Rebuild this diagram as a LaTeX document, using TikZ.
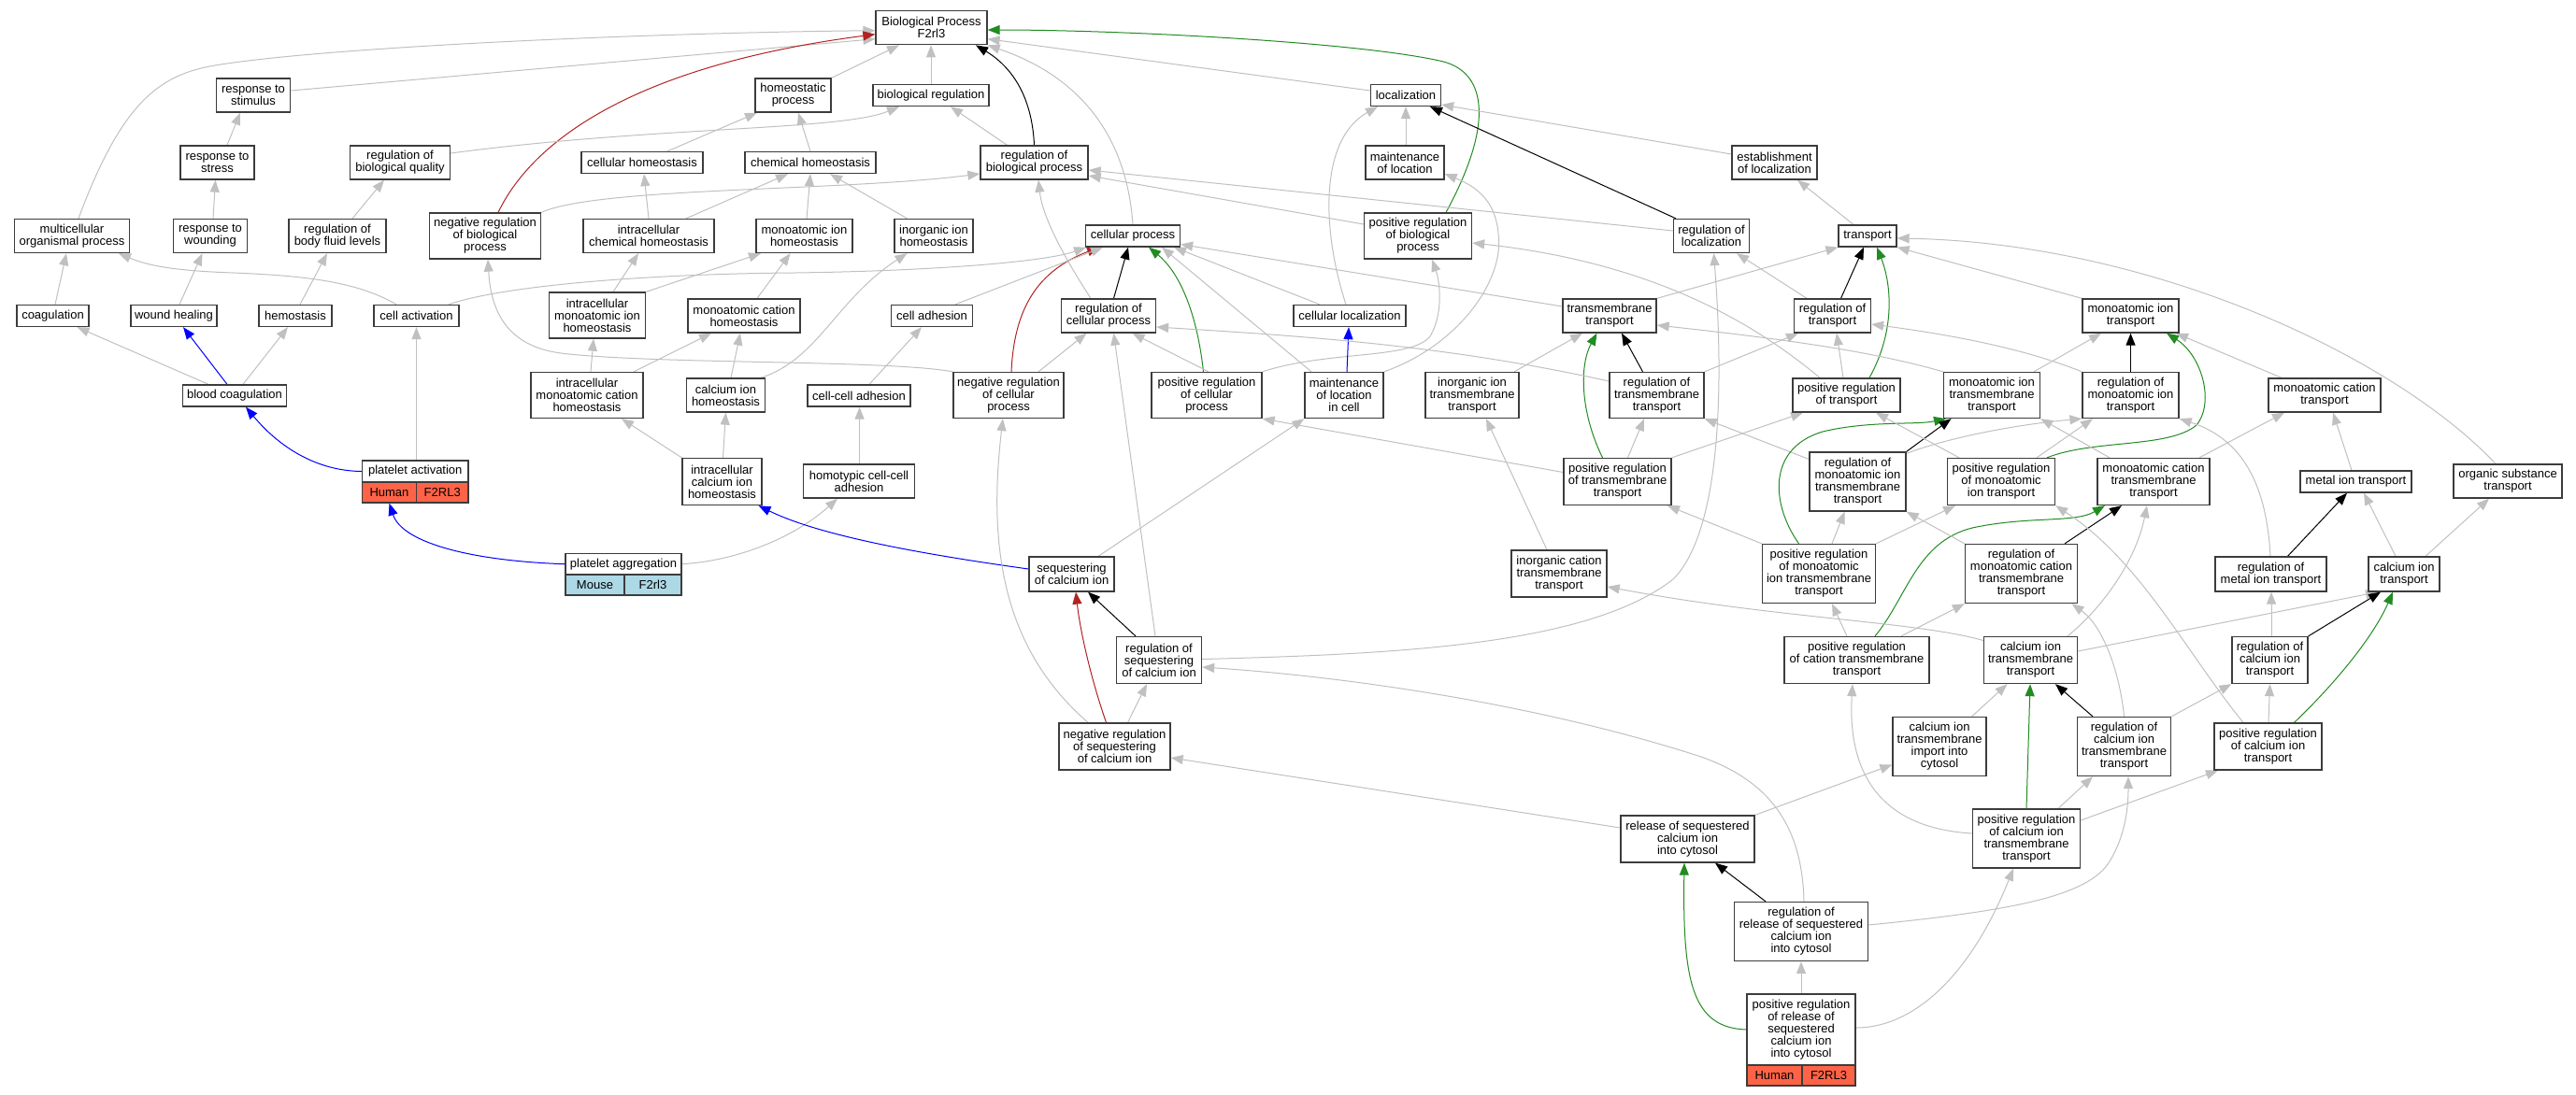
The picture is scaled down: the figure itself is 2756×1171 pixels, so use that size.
\documentclass[tikz,border=0pt]{standalone}
\usepackage{fontspec}
\setmainfont{Liberation Sans}
\usetikzlibrary{arrows.meta,backgrounds}
\definecolor{egray}{RGB}{192,192,192}
\definecolor{ered}{RGB}{178,34,34}
\definecolor{egreen}{RGB}{34,139,34}
\definecolor{eblue}{RGB}{0,0,255}
\definecolor{human}{RGB}{255,99,71}
\definecolor{mouse}{RGB}{173,216,230}
\definecolor{boxline}{RGB}{60,60,60}
\newcommand\nodefont{\fontsize{13}{13}\selectfont}
\newcommand\bx[6]{\node[box, minimum width=#4pt, minimum height=#5pt] (#1) at (#2,#3) {#6};}
\tikzset{
  box/.style={draw=boxline, line width=1.3pt, fill=white, inner sep=0pt, align=center, font=\nodefont},
  arr/.style={line width=1pt, -{Triangle[length=13pt,width=10pt]}},
  gE/.style={arr, draw=egray},
  kE/.style={arr, draw=black},
  rE/.style={arr, draw=ered},
  gnE/.style={arr, draw=egreen},
  bE/.style={arr, draw=eblue}
}
\begin{document}
\begin{tikzpicture}[x=1pt,y=-1pt]
\useasboundingbox (0,0) rectangle (2756,1171);
% ---------- nodes ----------
\bx{BP}{996.5}{29.7}{119}{36}{Biological Process\\F2rl3}
\bx{rstim}{271}{102}{79}{36}{response to\\stimulus}
\bx{homeo}{848.5}{102}{81}{36}{homeostatic\\process}
\bx{bioreg}{996}{102}{124}{23}{biological regulation}
\bx{loc}{1504}{102}{75}{23}{localization}
\bx{rstress}{232.5}{174}{79}{36}{response to\\stress}
\bx{rbq}{428}{174}{107}{36}{regulation of\\biological quality}
\bx{cellhom}{687}{174}{130}{23}{cellular homeostasis}
\bx{chemhom}{867}{174}{140}{23}{chemical homeostasis}
\bx{rbp}{1106.5}{174}{115}{36}{regulation of\\biological process}
\bx{mloc}{1503}{174}{84}{36}{maintenance\\of location}
\bx{estloc}{1898.5}{174}{91}{36}{establishment\\of localization}
\bx{mop}{77}{252.5}{123}{36}{multicellular\\organismal process}
\bx{rwound}{225}{252.5}{79}{36}{response to\\wounding}
\bx{rbfl}{361}{252.5}{104}{36}{regulation of\\body fluid levels}
\bx{nrbp}{519}{252.5}{119}{49}{negative regulation\\of biological\\process}
\bx{icheh}{694}{252.5}{140}{36}{intracellular\\chemical homeostasis}
\bx{mihom}{860.5}{252.5}{103}{36}{monoatomic ion\\homeostasis}
\bx{iihom}{999}{252.5}{84}{36}{inorganic ion\\homeostasis}
\bx{cproc}{1212}{252.5}{101}{23}{cellular process}
\bx{prbp}{1517}{252.5}{115}{49}{positive regulation\\of biological\\process}
\bx{rloc}{1831}{252.5}{81}{36}{regulation of\\localization}
\bx{transport}{1998}{252.5}{62}{23}{transport}
\bx{coag}{56.5}{338}{77}{23}{coagulation}
\bx{wheal}{186}{338}{92}{23}{wound healing}
\bx{hemo}{316}{338}{78}{23}{hemostasis}
\bx{cact}{445.5}{338}{91}{23}{cell activation}
\bx{imih}{639}{337.5}{103}{49}{intracellular\\monoatomic ion\\homeostasis}
\bx{mchom}{796}{338}{120}{36}{monoatomic cation\\homeostasis}
\bx{cadh}{997}{338}{87}{23}{cell adhesion}
\bx{rcp}{1186}{338}{101}{36}{regulation of\\cellular process}
\bx{cloc}{1444}{338}{120}{23}{cellular localization}
\bx{tmt}{1722}{338}{100}{36}{transmembrane\\transport}
\bx{rtr}{1960.5}{338}{82}{36}{regulation of\\transport}
\bx{mit}{2279.5}{338}{103}{36}{monoatomic ion\\transport}
\bx{bcoag}{251}{423.5}{111}{23}{blood coagulation}
\bx{imch}{628}{423}{120}{49}{intracellular\\monoatomic cation\\homeostasis}
\bx{cahom}{776.5}{423}{84}{36}{calcium ion\\homeostasis}
\bx{ccadh}{919}{423.5}{110}{23}{cell-cell adhesion}
\bx{nrcp}{1079}{423}{118}{49}{negative regulation\\of cellular\\process}
\bx{prcp}{1291}{423}{118}{49}{positive regulation\\of cellular\\process}
\bx{mlic}{1438}{423}{84}{49}{maintenance\\of location\\in cell}
\bx{iitt}{1575}{423}{100}{49}{inorganic ion\\transmembrane\\transport}
\bx{rtmt}{1772.5}{423}{101}{49}{regulation of\\transmembrane\\transport}
\bx{prtr}{1975.5}{423}{115}{36}{positive regulation\\of transport}
\bx{mitt}{2131}{423}{103}{49}{monoatomic ion\\transmembrane\\transport}
\bx{rmit}{2279.5}{423}{103}{49}{regulation of\\monoatomic ion\\transport}
\bx{mct}{2487}{423}{120}{36}{monoatomic cation\\transport}
\bx{pactT}{444.25}{504.5}{113.5}{23}{platelet activation}
\node[box, fill=human, minimum width=58pt, minimum height=22pt] (pactH) at (416.5,527) {Human};
\node[box, fill=human, minimum width=55.5pt, minimum height=22pt] (pactF) at (473.25,527) {F2RL3};
\bx{icahom}{772.5}{515.5}{85}{50}{intracellular\\calcium ion\\homeostasis}
\bx{hcca}{919}{515}{119}{36}{homotypic cell-cell\\adhesion}
\bx{prtmt}{1730.5}{515.5}{115}{50}{positive regulation\\of transmembrane\\transport}
\bx{rmitt}{1987.5}{515.5}{103}{63}{regulation of\\monoatomic ion\\transmembrane\\transport}
\bx{prmit}{2141}{515.5}{115}{50}{positive regulation\\of monoatomic\\ion transport}
\bx{mctt}{2304}{515.5}{120}{50}{monoatomic cation\\transmembrane\\transport}
\bx{metal}{2520.5}{515.5}{119}{23}{metal ion transport}
\bx{ost}{2683}{515}{116}{36}{organic substance\\transport}
\bx{paggT}{667}{603.75}{124}{22.5}{platelet aggregation}
\node[box, fill=mouse, minimum width=63pt, minimum height=22pt] (paggM) at (636.5,626) {Mouse};
\node[box, fill=mouse, minimum width=61pt, minimum height=22pt] (paggF) at (698.5,626) {F2rl3};
\bx{seq}{1146.5}{614.5}{91}{37}{sequestering\\of calcium ion}
\bx{ictt}{1668}{614}{102}{50}{inorganic cation\\transmembrane\\transport}
\bx{prmitt}{1946}{614}{121}{63}{positive regulation\\of monoatomic\\ion transmembrane\\transport}
\bx{rmctt}{2162.5}{614}{120}{63}{regulation of\\monoatomic cation\\transmembrane\\transport}
\bx{rmetal}{2429.5}{614.5}{119}{37}{regulation of\\metal ion transport}
\bx{cait}{2572}{614.5}{76}{37}{calcium ion\\transport}
\bx{rseq}{1240}{706.5}{91}{50}{regulation of\\sequestering\\of calcium ion}
\bx{prctt}{1986.5}{706.5}{155}{50}{positive regulation\\of cation transmembrane\\transport}
\bx{catt}{2172.5}{706.5}{100}{50}{calcium ion\\transmembrane\\transport}
\bx{rcait}{2428.5}{706.5}{81}{50}{regulation of\\calcium ion\\transport}
\bx{nrseq}{1192.5}{799}{119}{50}{negative regulation\\of sequestering\\of calcium ion}
\bx{catic}{2075}{799}{100}{63}{calcium ion\\transmembrane\\import into\\cytosol}
\bx{rcatt}{2272.5}{799}{100}{63}{regulation of\\calcium ion\\transmembrane\\transport}
\bx{prcait}{2426.5}{799}{115}{50}{positive regulation\\of calcium ion\\transport}
\bx{rsci}{1805.5}{898}{143}{50}{release of sequestered\\calcium ion\\into cytosol}
\bx{prcatt}{2168}{897.5}{115}{63}{positive regulation\\of calcium ion\\transmembrane\\transport}
\bx{rrsci}{1927}{997}{143}{63}{regulation of\\release of sequestered\\calcium ion\\into cytosol}
\bx{prrsciT}{1927}{1102}{116}{76}{positive regulation\\of release of\\sequestered\\calcium ion\\into cytosol}
\node[box, fill=human, minimum width=59pt, minimum height=22pt] (prrsciH) at (1898.5,1151) {Human};
\node[box, fill=human, minimum width=57pt, minimum height=22pt] (prrsciF) at (1956.5,1151) {F2RL3};
% ---------- edges ----------
\begin{scope}[on background layer]
\draw[gE] ([xshift=7]mop.north) .. controls (130,110) and (170,80) .. (230,70) .. controls (350,50) and (700,35) .. ([yshift=-3]BP.west);
\draw[gE] ([yshift=5]rstim.east) -- ([yshift=-12]BP.west);
\draw[rE] ([xshift=14]nrbp.north) .. controls (570,150) and (680,70) .. ([yshift=-7]BP.west);
\draw[gE] (homeo.north east) -- ([xshift=-34.5]BP.south);
\draw[gE] (bioreg.north) -- ([xshift=-0.5]BP.south);
\draw[kE] (rbp.north) .. controls (1104,100) and (1080,70) .. ([xshift=47.5]BP.south);
\draw[gE] (cproc.north) .. controls (1205,140) and (1150,80) .. (BP.south east);
\draw[gE] ([yshift=5]loc.west) -- ([yshift=-12]BP.east);
\draw[gnE] ([xshift=30]prbp.north) .. controls (1600,130) and (1590,75) .. (1540,65) .. controls (1450,45) and (1200,32) .. ([yshift=-2.3]BP.east);
\draw[gE] ([xshift=10.5]rstress.north) -- ([xshift=-14]rstim.south);
\draw[gE] ([xshift=3]rwound.north) -- ([xshift=-2]rstress.south);
\draw[gE] ([xshift=16]rbfl.north) -- ([xshift=-17]rbq.south);
\draw[gE] ([yshift=10]rbq.east) .. controls (700,135) and (900,140) .. ([xshift=-34]bioreg.south);
\draw[gE] ([xshift=27]cellhom.north) -- ([xshift=-38.5]homeo.south);
\draw[gE] (chemhom.north) -- ([xshift=5.5]homeo.south);
\draw[gE] ([xshift=-29]rbp.north) -- ([xshift=21]bioreg.south);
\draw[gE] (nrbp.north east) .. controls (640,200) and (900,205) .. ([yshift=-12]rbp.west);
\draw[gE] (icheh.north) -- ([xshift=2]cellhom.south);
\draw[gE] ([xshift=40]icheh.north) -- ([xshift=-24]chemhom.south);
\draw[gE] ([xshift=2.5]mihom.north) -- (chemhom.south);
\draw[gE] ([xshift=-28.5]iihom.north) -- ([xshift=21]chemhom.south);
\draw[gE] ([xshift=-19]rcp.north) .. controls (1135,270) and (1115,230) .. ([xshift=4.5]rbp.south);
\draw[gE] ([yshift=5.5]rloc.west) -- ([yshift=-8]rbp.east);
\draw[gE] ([yshift=12.5]prbp.west) -- ([yshift=-14]rbp.east);
\draw[rE] ([xshift=3]nrcp.north) .. controls (1085,330) and (1110,290) .. ([xshift=-36]cproc.south);
\draw[kE] ([xshift=5.5]rcp.north) -- ([xshift=-5]cproc.south);
\draw[gnE] ([xshift=-3.5]prcp.north) .. controls (1280,330) and (1260,290) .. ([xshift=17]cproc.south);
\draw[gE] ([xshift=25]cadh.north) -- ([xshift=-32]cproc.south);
\draw[gE] ([xshift=34.5]cact.north) .. controls (540,305) and (700,293) .. (850,292) .. controls (1000,290) and (1120,280) .. ([xshift=-50]cproc.south);
\draw[gE] ([yshift=10]tmt.west) -- ([yshift=-9]cproc.east);
\draw[gE] ([xshift=-32]cloc.north) -- ([xshift=44]cproc.south);
\draw[gE] ([xshift=-35]mlic.north) -- ([xshift=31]cproc.south);
\draw[gE] ([xshift=1]mloc.north) -- (loc.south);
\draw[gE] ([xshift=-4]cloc.north) .. controls (1415,250) and (1410,150) .. ([xshift=-30]loc.south);
\draw[kE] ([xshift=-38]rloc.north) -- ([xshift=26]loc.south);
\draw[gE] ([yshift=9]estloc.west) -- ([yshift=-10]loc.east);
\draw[gE] ([xshift=-15]transport.north) -- ([xshift=24.5]estloc.south);
\draw[gE] (mlic.north east) .. controls (1560,370) and (1610,300) .. (1603,250) .. controls (1600,215) and (1580,200) .. ([yshift=-12]mloc.east);
\draw[gE] (prcp.north east) .. controls (1420,375) and (1510,385) .. (1530,360) .. controls (1545,335) and (1540,300) .. ([xshift=15]prbp.south);
\draw[gE] ([xshift=-28.5]prtr.north) .. controls (1870,340) and (1760,280) .. ([yshift=-7.5]prbp.east);
\draw[bE] ([xshift=3]mlic.north) -- ([xshift=-1]cloc.south);
\draw[gE] (tmt.north east) -- (transport.south west);
\draw[kE] ([xshift=9]rtr.north) -- ([xshift=-4]transport.south);
\draw[gnE] ([xshift=24.5]prtr.north) .. controls (2030,350) and (2022,300) .. ([xshift=10]transport.south);
\draw[gE] ([xshift=-27.5]rtr.north) -- ([xshift=27]rloc.south);
\draw[gE] ([yshift=1]rseq.east) .. controls (1500,700) and (1700,690) .. (1790,620) .. controls (1840,570) and (1845,420) .. ([xshift=2.5]rloc.south);
\draw[gE] ([xshift=3]rrsci.north) .. controls (1928,880) and (1890,835) .. (1820,810) .. controls (1650,755) and (1450,725) .. ([yshift=-7.5]rseq.east);
\draw[gE] ([yshift=12]rsci.west) -- ([yshift=-12]nrseq.east);
\draw[kE] ([xshift=-15]rtmt.north) -- ([xshift=13]tmt.south);
\draw[gnE] ([xshift=-16]prtmt.north) .. controls (1690,440) and (1690,390) .. ([xshift=-13.5]tmt.south);
\draw[gE] ([xshift=45]iitt.north) -- ([xshift=-29]tmt.south);
\draw[gE] (rtmt.north east) -- ([xshift=-36.5]rtr.south);
\draw[gE] ([xshift=-3.5]prtr.north) -- ([xshift=4.5]rtr.south);
\draw[gE] (mitt.north west) .. controls (2000,375) and (1900,362) .. ([yshift=-10]tmt.east);
\draw[gE] (rmit.north west) .. controls (2170,375) and (2100,360) .. ([yshift=-9]rtr.east);
\draw[gE] (mit.north west) -- (transport.south east);
\draw[gE] ([xshift=-13]ost.north) .. controls (2560,380) and (2300,260) .. ([yshift=-2.5]transport.east);
\draw[gE] ([xshift=45]mitt.north) -- ([xshift=-31.5]mit.south);
\draw[kE] (rmit.north) -- (mit.south);
\draw[gnE] ([xshift=49]prmit.north) .. controls (2240,470) and (2320,480) .. (2350,455) .. controls (2370,430) and (2355,380) .. ([xshift=38.5]mit.south);
\draw[gE] ([xshift=-46]mct.north) -- ([xshift=48.5]mit.south);
\draw[gE] ([xshift=2.5]coag.north) -- ([xshift=-6]mop.south);
\draw[gE] ([xshift=6]wheal.north) -- ([xshift=-8.5]rwound.south);
\draw[gE] ([xshift=5]hemo.north) -- ([xshift=-11]rbfl.south);
\draw[gE] ([xshift=-21.5]cact.north) .. controls (380,300) and (320,295) .. (250,292) .. controls (190,290) and (160,285) .. ([xshift=50]mop.south);
\draw[gE] ([xshift=-28]bcoag.north) -- ([xshift=26]coag.south);
\draw[bE] ([xshift=-8]bcoag.north) -- ([xshift=10]wheal.south);
\draw[gE] ([xshift=9]bcoag.north) -- ([xshift=-8]hemo.south);
\draw[gE] ([xshift=1.25]pactT.north) -- (cact.south);
\draw[bE] (pactT.west) .. controls (340,504) and (300,480) .. ([xshift=12]bcoag.south);
\draw[bE] (paggT.west) .. controls (500,600) and (430,580) .. (pactH.south);
\draw[gE] (paggT.east) .. controls (790,600) and (850,575) .. ([xshift=-23]hcca.south);
\draw[bE] ([yshift=5.5]seq.west) .. controls (1000,595) and (880,575) .. ([xshift=39]icahom.south);
\draw[gE] ([xshift=28.5]seq.north) -- (mlic.south west);
\draw[gE] ([xshift=1]icahom.north) -- (cahom.south);
\draw[gE] (icahom.north west) -- ([xshift=37]imch.south);
\draw[gE] ([xshift=0.6]hcca.north) -- ([xshift=0.6]ccadh.south);
\draw[gE] ([xshift=11]ccadh.north) -- ([xshift=-11]cadh.south);
\draw[gE] ([xshift=5.5]cahom.north) -- ([xshift=-4]mchom.south);
\draw[gE] ([xshift=50]imch.north) -- ([xshift=-35]mchom.south);
\draw[gE] ([xshift=4]imch.north) -- ([xshift=-4]imih.south);
\draw[gE] ([xshift=37.5]cahom.north) .. controls (875,385) and (895,320) .. ([xshift=-28.5]iihom.south);
\draw[gE] ([xshift=14]mchom.north) -- ([xshift=-15]mihom.south);
\draw[gE] (imih.north east) -- ([xshift=-46.5]mihom.south);
\draw[gE] ([xshift=17]imih.north) -- ([xshift=-11]icheh.south);
\draw[gE] (nrcp.north west) .. controls (950,385) and (700,390) .. (600,378) .. controls (540,370) and (525,330) .. ([xshift=3]nrbp.south);
\draw[gE] ([xshift=32]nrcp.north) -- ([xshift=-23.5]rcp.south);
\draw[gE] ([xshift=2]prcp.north) -- ([xshift=25.5]rcp.south);
\draw[gE] ([xshift=-4]rseq.north) -- ([xshift=5.5]rcp.south);
\draw[gE] ([xshift=-28.5]nrseq.north) .. controls (1080,700) and (1055,600) .. ([xshift=-6]nrcp.south);
\draw[rE] ([xshift=-9]nrseq.north) .. controls (1165,720) and (1155,670) .. ([xshift=4.5]seq.south);
\draw[kE] ([xshift=-25]rseq.north) -- ([xshift=17.5]seq.south);
\draw[gE] ([xshift=14]nrseq.north) -- ([xshift=-13]rseq.south);
\draw[gE] ([yshift=10]prtmt.west) -- (prcp.south east);
\draw[gE] ([xshift=11]prtmt.north) -- ([xshift=-13.5]rtmt.south);
\draw[gE] (prtmt.north east) -- ([xshift=-46.5]prtr.south);
\draw[gE] ([xshift=-13]ictt.north) -- ([xshift=15]iitt.south);
\draw[gE] ([yshift=24]rmitt.west) -- (rtmt.south east);
\draw[gE] (prmitt.north west) -- ([xshift=53.5]prtmt.south);
\draw[gE] ([xshift=14]prmitt.north) -- ([xshift=-14]rmitt.south);
\draw[gnE] ([xshift=-21.5]prmitt.north) .. controls (1895,540) and (1890,480) .. (1950,462) .. controls (2000,450) and (2050,455) .. ([xshift=-49]mitt.south);
\draw[kE] (rmitt.north east) -- ([xshift=-43.5]mitt.south);
\draw[gE] ([yshift=-2]rmitt.north east) .. controls (2080,470) and (2150,455) .. (rmit.south west);
\draw[gE] ([xshift=38]prmit.north) -- ([xshift=-40.5]rmit.south);
\draw[gE] ([xshift=-45]prmit.north) -- ([xshift=31.5]prtr.south);
\draw[gE] ([xshift=-47]mctt.north) -- (mitt.south east);
\draw[gE] ([xshift=49]mctt.north) -- ([xshift=-43]mct.south);
\draw[gE] ([xshift=-4.5]metal.north) -- ([xshift=9]mct.south);
\draw[kE] ([xshift=18]rmetal.north) -- ([xshift=-9.5]metal.south);
\draw[gE] ([xshift=-9]cait.north) -- ([xshift=8.5]metal.south);
\draw[gE] ([xshift=23]cait.north) -- ([xshift=-20]ost.south);
\draw[gE] ([xshift=-0.5]rmetal.north) .. controls (2425,520) and (2400,470) .. (rmit.south east);
\draw[kE] ([xshift=46.5]rmctt.north) -- ([xshift=-34]mctt.south);
\draw[gnE] ([xshift=19.5]prctt.north) .. controls (2040,640) and (2050,580) .. (2110,565) .. controls (2170,552) and (2220,560) .. ([xshift=-52]mctt.south);
\draw[gE] ([xshift=39.5]catt.north) .. controls (2250,650) and (2285,600) .. ([xshift=-7]mctt.south);
\draw[gE] (prmitt.north east) -- ([xshift=-49]prmit.south);
\draw[gE] ([xshift=-26.5]prcait.north) .. controls (2340,700) and (2290,600) .. (prmit.south east);
\draw[gE] (rmctt.north west) -- (rmitt.south east);
\draw[gE] ([xshift=47.5]prctt.north) -- (rmctt.south west);
\draw[gE] (rcatt.north) .. controls (2268,720) and (2250,670) .. ([xshift=54]rmctt.south);
\draw[gE] ([xshift=-10.5]prctt.north) -- ([xshift=14]prmitt.south);
\draw[gE] ([yshift=21]catt.west) .. controls (2050,665) and (1900,662) .. ([yshift=-14]ictt.east);
\draw[gE] ([yshift=9.5]catt.east) -- ([xshift=-28]cait.south);
\draw[kE] (rcait.north east) -- ([xshift=-25]cait.south);
\draw[gnE] ([xshift=28]prcait.north) .. controls (2500,730) and (2540,680) .. ([xshift=-12]cait.south);
\draw[gE] ([xshift=1.5]rcait.north) -- ([xshift=0.5]rmetal.south);
\draw[gE] ([xshift=0.5]prcait.north) -- (rcait.south);
\draw[gE] (rcatt.north east) -- (rcait.south west);
\draw[gE] ([xshift=34.6]catic.north) -- ([xshift=-25]catt.south);
\draw[gnE] (prcatt.north) -- ([xshift=-0.5]catt.south);
\draw[kE] ([xshift=-33.5]rcatt.north) -- ([xshift=26.5]catt.south);
\draw[gE] ([xshift=34]prcatt.north) -- ([xshift=-33.5]rcatt.south);
\draw[gE] ([yshift=19.5]prcatt.east) -- ([xshift=-53.5]prcait.south);
\draw[gE] ([yshift=7]rrsci.east) .. controls (2150,975) and (2230,960) .. (2255,925) .. controls (2275,895) and (2277,860) .. ([xshift=4.5]rcatt.south);
\draw[gE] ([yshift=2]prrsciT.east) .. controls (2050,1100) and (2110,1040) .. ([xshift=-14]prcatt.south);
\draw[gE] (prrsciT.north) -- (rrsci.south);
\draw[gnE] (prrsciT.west) .. controls (1810,1100) and (1800,1050) .. ([xshift=-3.5]rsci.south);
\draw[kE] ([xshift=-38]rrsci.north) -- ([xshift=29.5]rsci.south);
\draw[gE] (rsci.north east) -- ([yshift=-19.5]catic.west);
\draw[gE] ([yshift=5.5]prcatt.west) .. controls (1990,885) and (1978,800) .. ([xshift=-4.5]prctt.south);
\draw[gE] ([yshift=15]rtmt.west) .. controls (1550,370) and (1400,360) .. ([yshift=-12]rcp.east);
\end{scope}
\end{tikzpicture}
\end{document}
